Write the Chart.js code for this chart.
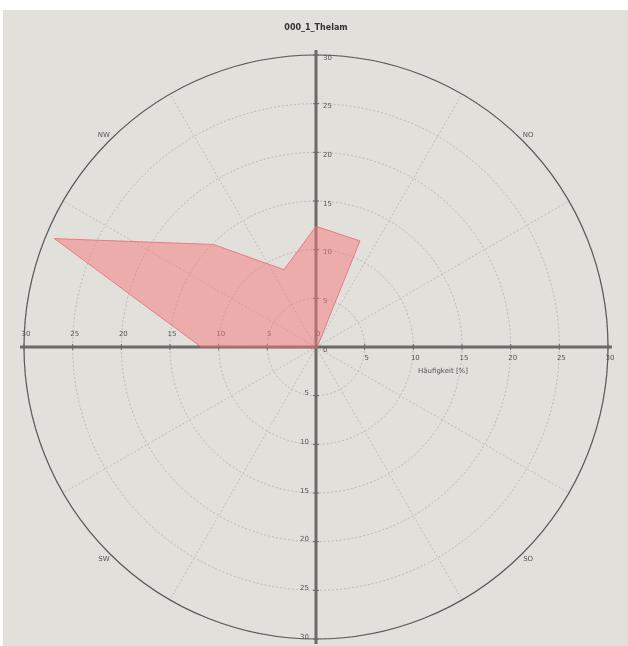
<!DOCTYPE html>
<html>
<head>
<meta charset="utf-8">
<script src="https://cdn.jsdelivr.net/npm/chart.js@4/dist/chart.umd.min.js"></script>
<style>
  html, body { margin: 0; padding: 0; background: #fff; }
  #wrap { position: absolute; left: 3px; top: 10px; width: 625px; height: 636px; background: #e2e0da; }
</style>
</head>
<body>
<div id="wrap"><canvas id="rose"></canvas></div>
<script>
// wind directions, clockwise from north
const directions = ['N', 'NNO', 'NO', 'ONO', 'O', 'OSO', 'SO', 'SSO', 'S', 'SSW', 'SW', 'WSW', 'W', 'WNW', 'NW', 'NNW']
// frequency per direction [%]
const frequency = [12.4, 11.8, 0.3, 0.2, 0.2, 0.1, 0.1, 0.1, 0.2, 0.1, 0.1, 0.2, 11.8, 29.1, 14.9, 8.6]
const tickValues = [0, 5, 10, 15, 20, 25, 30]
const cornerLabels = ['NO', 'SO', 'SW', 'NW']
const title = '000_1_Thelam'
const axisTitle = 'Häufigkeit [%]'

const roseDecor = {
  id: 'roseDecor',
  beforeDatasetsDraw(chart) {
    const ctx = chart.ctx
    const s = chart.scales.r
    const cx = s.xCenter, cy = s.yCenter
    const R = s.getDistanceFromCenterForValue(30)

    ctx.save()
    // radial lines every 30 degrees
    ctx.strokeStyle = 'rgba(150,150,150,0.45)'
    ctx.lineWidth = 1
    ctx.setLineDash([2, 2])
    for (let a = 0; a < 360; a += 30) {
      const rad = a * Math.PI / 180
      ctx.beginPath()
      ctx.moveTo(cx, cy)
      ctx.lineTo(cx + R * Math.cos(rad), cy + R * Math.sin(rad))
      ctx.stroke()
    }
    ctx.setLineDash([])

    // outer circle
    ctx.strokeStyle = '#5a5a5a'
    ctx.lineWidth = 1.2
    ctx.beginPath()
    ctx.arc(cx, cy, R, 0, Math.PI * 2)
    ctx.stroke()

    // cross axes
    ctx.strokeStyle = '#6a6a66'
    ctx.lineWidth = 3
    ctx.beginPath()
    ctx.moveTo(cx - R - 4, cy)
    ctx.lineTo(cx + R + 4, cy)
    ctx.moveTo(cx, cy - R - 5)
    ctx.lineTo(cx, cy + R + 5)
    ctx.stroke()

    // tick marks and labels
    ctx.fillStyle = '#555'
    ctx.font = '7px "DejaVu Sans", sans-serif'
    ctx.lineWidth = 1
    ctx.strokeStyle = '#666'
    tickValues.forEach(v => {
      const d = s.getDistanceFromCenterForValue(v)
      ctx.beginPath()
      ctx.moveTo(cx - d, cy - 3); ctx.lineTo(cx - d, cy + 3)
      ctx.moveTo(cx + d, cy - 3); ctx.lineTo(cx + d, cy + 3)
      ctx.moveTo(cx - 3, cy - d); ctx.lineTo(cx + 3, cy - d)
      ctx.moveTo(cx - 3, cy + d); ctx.lineTo(cx + 3, cy + d)
      ctx.stroke()

      ctx.textAlign = 'center'
      ctx.textBaseline = 'bottom'
      ctx.fillText(String(v), cx - d + 2, cy - 9)
      if (v > 0) {
        ctx.textBaseline = 'top'
        ctx.fillText(String(v), cx + d + 2, cy + 8)
      }
      ctx.textBaseline = 'middle'
      ctx.textAlign = 'left'
      ctx.fillText(String(v), cx + 7, cy - d + 3)
      if (v > 0) {
        ctx.textAlign = 'right'
        ctx.fillText(String(v), cx - 7, cy + d - 2)
      }
    })

    ctx.textAlign = 'center'
    ctx.textBaseline = 'top'
    ctx.fillText(axisTitle, cx + 127, cy + 21)

    // corner direction labels
    const rl = R + 8
    cornerLabels.forEach((t, i) => {
      const rad = (-45 + i * 90) * Math.PI / 180
      ctx.textAlign = 'center'
      ctx.textBaseline = 'middle'
      ctx.fillText(t, cx + rl * Math.cos(rad), cy + rl * Math.sin(rad))
    })
    ctx.restore()
  }
}

new Chart(document.getElementById('rose'), {
  type: 'radar',
  data: {
    labels: directions,
    datasets: [{
      data: frequency,
      backgroundColor: 'rgba(245,119,125,0.5)',
      borderColor: 'rgba(230,95,100,0.7)',
      borderWidth: 1,
      pointRadius: 0,
      fill: true
    }]
  },
  options: {
    responsive: true,
    maintainAspectRatio: false,
    animation: false,
    layout: { padding: { left: 21, right: 20, top: 0, bottom: 7 } },
    plugins: {
      legend: { display: false },
      tooltip: { enabled: false },
      title: {
        display: true,
        text: title,
        color: '#333',
        font: { size: 8, weight: 'bold', family: '"DejaVu Sans", sans-serif' },
        padding: { top: 13, bottom: 22.4 }
      }
    },
    scales: {
      r: {
        min: 0,
        max: 30,
        ticks: { display: false, stepSize: 5 },
        pointLabels: { display: false },
        angleLines: { display: false },
        grid: { circular: true, color: 'rgba(150,150,150,0.5)', lineWidth: 1 },
        border: { dash: [2, 2] }
      }
    }
  },
  plugins: [roseDecor]
})
</script>
</body>
</html>
